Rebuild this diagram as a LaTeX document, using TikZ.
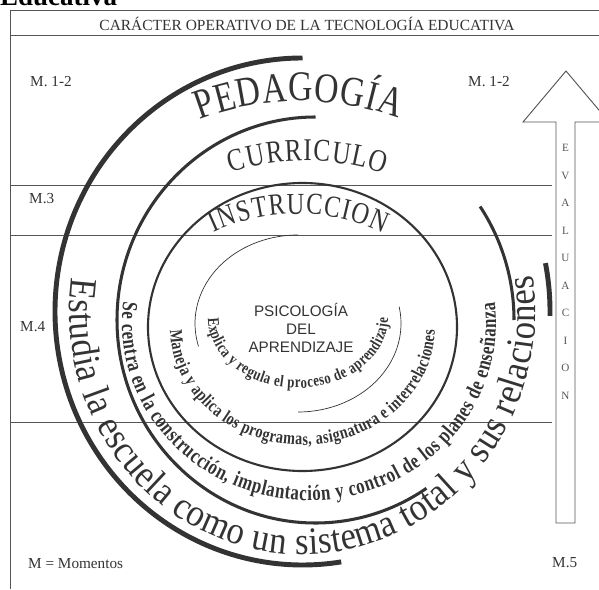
\documentclass[tikz,border=0pt]{standalone}
\usepackage{fontspec}
\setmainfont{Liberation Serif}
\setsansfont{Liberation Sans}
\newfontfamily\narrowserif[FakeStretch=0.8]{Liberation Serif}
\newfontfamily\slimserif[FakeStretch=0.78]{Liberation Serif}
\newfontfamily\roundserif[FakeStretch=0.9]{Liberation Serif}
\usetikzlibrary{decorations.text}
\definecolor{ink}{HTML}{333333}
\definecolor{rulegray}{HTML}{555555}

\begin{document}
\begin{tikzpicture}[x=0.03cm,y=0.03cm,
  outerarc/.style={draw=ink,line width=4.2pt},
  midarc/.style={draw=ink,line width=2.6pt},
  innerarc/.style={draw=ink,line width=1.8pt},
  thinarc/.style={draw=ink,line width=0.6pt},
  hline/.style={draw=rulegray,line width=0.6pt},
  lbl/.style={anchor=west,inner sep=0pt,text=ink,font=\fontsize{13}{15}\selectfont},
  evl/.style={inner sep=0pt,text=rulegray,font=\fontsize{9.5}{11}\selectfont}]
  \useasboundingbox (0,0) rectangle (599,589);

  \node[anchor=base west,inner sep=0pt,font=\bfseries\fontsize{23}{25}\selectfont] (head) at (0,583) {Educativa}; %cut heading

  \draw[rulegray,line width=0.7pt] (10,0) -- (10,579) -- (610,579); %Frame
  \draw[rulegray,line width=0.7pt] (10,554) -- (610,554);          %Title strip
  \node[inner sep=0pt,text=ink,font=\fontsize{13.2}{15}\selectfont] (title) at (307,565) {CARÁCTER OPERATIVO DE LA TECNOLOGÍA EDUCATIVA};

  \draw[hline] (10,404) -- (552,404); %M.3 top
  \draw[hline] (10,354) -- (552,354); %M.4 top
  \draw[hline] (10,167) -- (552,167); %M.4 bottom

  \node[lbl] (m12a) at (30,507) {M. 1-2};
  \node[lbl] (m12b) at (468,507) {M. 1-2};
  \node[lbl] (m3) at (29,390) {M.3};
  \node[lbl] (m4) at (20,262) {M.4};
  \node[lbl] (mm) at (28,25) {M = Momentos};
  \node[lbl] (m5) at (552,26) {M.5};

  % evaluation arrow
  \draw[rulegray,line width=0.8pt,fill=white] (556,66) -- (556,467) -- (523,467) -- (566,518) -- (609,467) -- (575,467) -- (575,66) -- cycle;
  \foreach \ch [count=\i] in {E,V,A,L,U,A,C,I,O,N}
    \node[evl] (ev\i) at (565.5,{468.5-27.5*\i}) {\ch};

  % rings
  \draw[outerarc] (302.5,277.5) ++(90:247.5 and 253.5) arc[start angle=90,end angle=279,x radius=247.5,y radius=253.5];
  \draw[outerarc] (302.5,277.5) ++(-1:247.5 and 253.5) arc[start angle=-1,end angle=11,x radius=247.5,y radius=253.5];
  \draw[midarc] (315.5,269) ++(90:198.5 and 203) arc[start angle=90,end angle=304,x radius=198.5,y radius=203];
  \draw[midarc] (315.5,269) ++(0:198.5 and 203) arc[start angle=0,end angle=34,x radius=198.5,y radius=203];
  \draw[innerarc] (302.5,262) ellipse[x radius=154.5,y radius=144];
  \draw[thinarc] (298,265.5) ++(90:103 and 88.5) arc[start angle=90,end angle=195,x radius=103,y radius=88.5];
  \draw[thinarc] (298,265.5) ++(-90:103 and 88.5) arc[start angle=-90,end angle=11,x radius=103,y radius=88.5];

  % ring titles
  \path[decorate,decoration={text along path,text align={fit to path},
    text={|\narrowserif\fontsize{36}{38}\selectfont\color{ink}|PEDAGOGÍA}}]
    (300,208) ++(111:280) arc[start angle=111,end angle=69.5,radius=280];
  \path[decorate,decoration={text along path,text align={fit to path},
    text={|\narrowserif\fontsize{27}{29}\selectfont\color{ink}|CURRICULO}}]
    (306,178) ++(107.5:250) arc[start angle=107.5,end angle=71.8,radius=250];
  \path[decorate,decoration={text along path,text align={fit to path},
    text={|\narrowserif\fontsize{26}{28}\selectfont\color{ink}|INSTRUCCION}}]
    (298,175) ++(115:200) arc[start angle=115,end angle=64.8,radius=200];

  % ring texts
  \path[decorate,decoration={text along path,text align={fit to path},
    text={|\roundserif\fontsize{33}{35}\selectfont\color{ink}|Estudia la escuela como un sistema total y sus relaciones}}]
    (302.5,277.5) ++(172:233 and 243) arc[start angle=172,end angle=368.6,x radius=233,y radius=243];
  \path[decorate,decoration={text along path,text align={fit to path},
    text={|\slimserif\bfseries\fontsize{18.5}{20}\selectfont\color{ink}|Se centra en la construcción, implantación y control de los planes de enseñanza}}]
    (309,265.5) ++(173:187 and 177) arc[start angle=173,end angle=367,x radius=187,y radius=177];
  \path[decorate,decoration={text along path,text align={fit to path},
    text={|\slimserif\bfseries\fontsize{15.5}{17}\selectfont\color{ink}|Maneja y aplica los programas, asignatura e interrelaciones}}]
    (302.5,262) ++(181.5:132.5 and 118) arc[start angle=181.5,end angle=358.5,x radius=132.5,y radius=118];
  \path[decorate,decoration={text along path,text align={fit to path},
    text={|\slimserif\bfseries\fontsize{14}{16}\selectfont\color{ink}|Explica y regula el proceso de aprendizaje}}]
    (298,271) ++(180:90 and 70) arc[start angle=180,end angle=360,x radius=90,y radius=70];

  \node[align=center,inner sep=0pt,text=ink,font=\sffamily\fontsize{13}{15.7}\selectfont] (psico) at (301,261) {PSICOLOGÍA\\DEL\\APRENDIZAJE};
\end{tikzpicture}
\end{document}
